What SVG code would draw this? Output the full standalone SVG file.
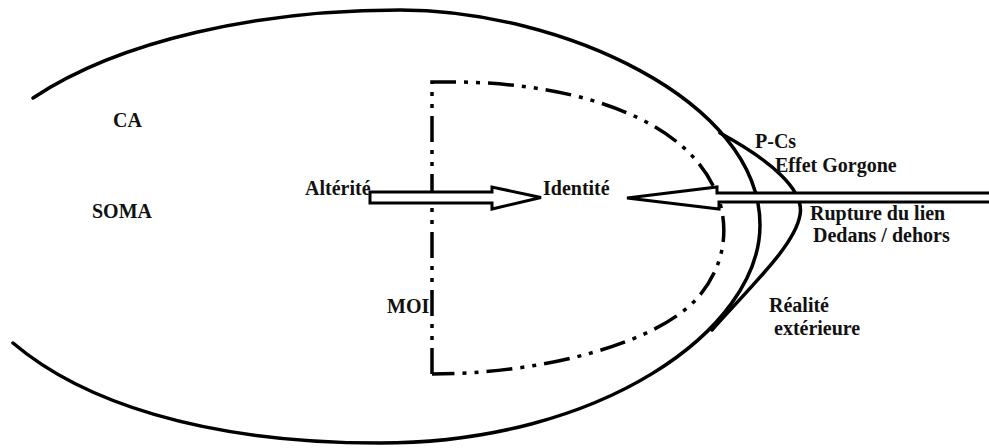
<svg xmlns="http://www.w3.org/2000/svg" width="989" height="448" viewBox="0 0 989 448">
<style>
.ln{fill:none;stroke:#000;stroke-width:3.5;stroke-linecap:round}
.dash{fill:none;stroke:#000;stroke-width:3.5;stroke-dasharray:26 8 4 8 4 8}
.arr{fill:#fff;stroke:#000;stroke-width:3;stroke-linejoin:miter}
text{font-family:"Liberation Serif","Times New Roman",serif;font-weight:bold;font-size:20px;fill:#111}
</style>
<rect width="989" height="448" fill="#fff"/>
<g id="soma">
<path class="ln" d="M33,98 C120,40 260,10 400,10 C560,10 760,100 760,225 C760,330 600,443 380,443 C200,443 80,400 13,343"/>
<text x="113" y="127">CA</text>
<text x="92" y="218">SOMA</text>
</g>
<g id="pcs">
<path class="ln" d="M720,133 C770,160 805,190 800,215 C795,245 752,285 712,330"/>
<text x="755" y="148">P-Cs</text>
<text x="775" y="172">Effet Gorgone</text>
</g>
<g id="moi">
<path class="dash" d="M432,374 V82 H460 C580,84 690,120 718,197 C728,225 727,262 700,295 C660,344 540,374 432,374"/>
<text x="387" y="313">MOI</text>
</g>
<g id="connectors">
<path class="arr" d="M370,192 H492 V187 L541,197.5 L492,209 V203 H370 Z"/>
<path class="arr" d="M627,198 L717,187 V193 H995 V202 H719 V209 Z"/>
</g>
<g id="alterite"><text x="305" y="195">Altérité</text></g>
<g id="identite"><text x="543" y="195">Identité</text></g>
<g id="rupture">
<text x="810" y="220">Rupture du lien</text>
<text x="813" y="242">Dedans / dehors</text>
</g>
<g id="realite">
<text x="769" y="312">Réalité</text>
<text x="774" y="335">extérieure</text>
</g>
</svg>
